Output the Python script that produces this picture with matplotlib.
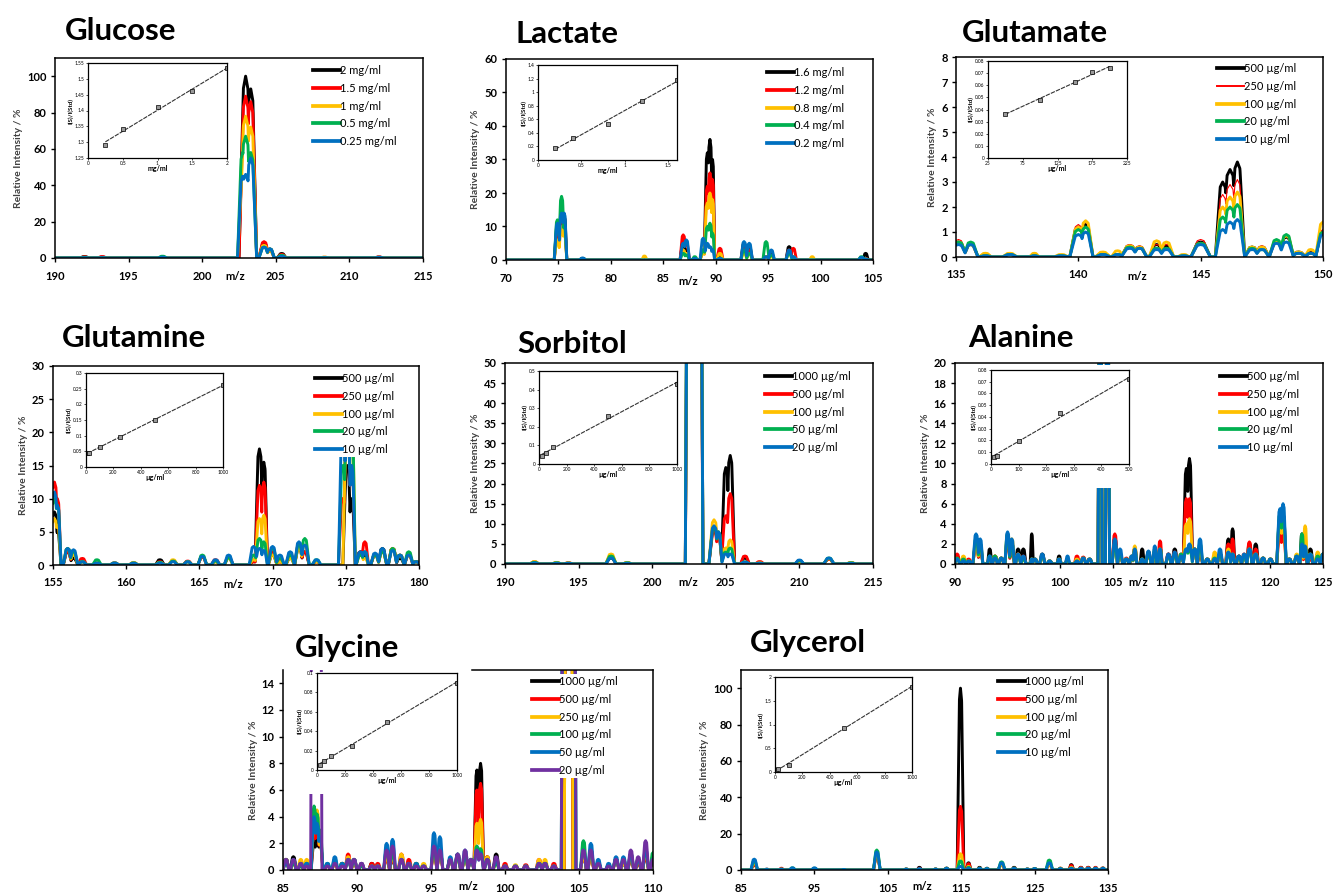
import numpy as np
import matplotlib
matplotlib.use('Agg')
import matplotlib.pyplot as plt
from matplotlib.lines import Line2D
from matplotlib.patches import Rectangle
from matplotlib.ticker import FuncFormatter, MultipleLocator

plt.rcParams['font.family'] = ['Lato', 'DejaVu Sans']

W, H = 1333, 894
COLORS = ['#000000', '#ff0000', '#ffc000', '#00b050', '#0070c0', '#7030a0']
UG = '\u00b5g/ml'

# ---------------- DATA ----------------
# peaks: (m/z, half width, [height per concentration, highest first])

glucose_labels = ['2 mg/ml', '1.5 mg/ml', '1 mg/ml', '0.5 mg/ml', '0.25 mg/ml']
glucose_peaks = [
    (192.0, 0.3, [0.8, 0.6, 0.4, 0.3, 0.2]),
    (193.2, 0.3, [0.5, 0.8, 0.3, 0.2, 0.2]),
    (197.3, 0.3, [0.4, 0.4, 0.6, 1.0, 0.5]),
    (202.75, 0.35, [0, 0, 40, 58, 45]),
    (202.95, 0.45, [100, 89, 78, 67, 46]),
    (203.3, 0.4, [93, 86, 72, 58, 55]),
    (204.2, 0.35, [8, 9, 7, 6, 6]),
    (204.6, 0.3, [5, 4, 4, 5, 5]),
    (205.4, 0.3, [2.5, 2, 1.5, 1.5, 1]),
    (208.3, 0.3, [0.3, 0.4, 0.5, 0.2, 0.2]),
    (212.0, 0.3, [0.5, 0.6, 0.3, 0.4, 0.3]),
]
glucose_cal_x = [0.25, 0.5, 1, 1.5, 2]
glucose_cal_y = [1.29, 1.343, 1.41, 1.462, 1.533]

lactate_labels = ['1.6 mg/ml', '1.2 mg/ml', '0.8 mg/ml', '0.4 mg/ml', '0.2 mg/ml']
lactate_peaks = [
    (74.9, 0.3, [10, 8, 6, 12, 11]),
    (75.3, 0.3, [15, 12, 10, 19, 14]),
    (75.55, 0.25, [13, 10, 8, 10, 14]),
    (77.3, 0.3, [0.5, 0.4, 0.3, 0.5, 0.6]),
    (83.2, 0.25, [0, 0, 1.2, 0, 0]),
    (86.9, 0.3, [5, 7.5, 3, 2, 5]),
    (87.2, 0.3, [3, 5, 2, 1.5, 6]),
    (88.0, 0.25, [0.5, 0.5, 0.5, 1.0, 0.5]),
    (88.8, 0.3, [3, 2, 2, 3, 6.5]),
    (89.2, 0.3, [32, 22, 17, 10, 5]),
    (89.45, 0.3, [36, 26, 20, 11, 4]),
    (89.7, 0.2, [30, 24, 18, 8, 3]),
    (90.4, 0.3, [1.5, 3.5, 2, 0.5, 0.5]),
    (92.7, 0.3, [5, 4, 2, 3, 5.5]),
    (93.2, 0.3, [4, 3, 2, 2, 5]),
    (94.8, 0.3, [1, 1, 1, 5.5, 1]),
    (95.3, 0.3, [2, 1.5, 1, 1.5, 3]),
    (97.0, 0.3, [4, 3, 2, 2, 3]),
    (97.4, 0.3, [1, 3.5, 1, 0.5, 1]),
    (99.2, 0.25, [0, 0, 1, 0, 0]),
    (103.9, 0.3, [0.5, 0.5, 0.5, 1.0, 0.8]),
    (104.3, 0.25, [2, 0.5, 0.3, 0.3, 0.3]),
]
lactate_cal_x = [0.2, 0.4, 0.8, 1.2, 1.6]
lactate_cal_y = [0.174, 0.32, 0.536, 0.87, 1.18]

glutamate_labels = ['500 ' + UG, '250 ' + UG, '100 ' + UG, '20 ' + UG, '10 ' + UG]
glutamate_peaks = [
    (135.1, 0.35, [0.6, 0.7, 0.6, 0.6, 0.5]),
    (135.6, 0.3, [0.5, 0.5, 0.5, 0.6, 0.5]),
    (136.2, 0.25, [0.1, 0.1, 0.15, 0.05, 0.05]),
    (137.2, 0.3, [0.1, 0.1, 0.15, 0.1, 0.1]),
    (138.2, 0.2, [0.05, 0.1, 0.15, 0.05, 0.05]),
    (139.3, 0.3, [0.05, 0.05, 0.1, 0.05, 0.05]),
    (140.0, 0.35, [1.2, 1.3, 1.2, 1.1, 0.9]),
    (140.3, 0.3, [1.3, 1.4, 1.45, 1.2, 1.0]),
    (141.0, 0.3, [0.15, 0.15, 0.2, 0.1, 0.1]),
    (141.6, 0.25, [0.1, 0.1, 0.25, 0.1, 0.1]),
    (142.1, 0.35, [0.45, 0.5, 0.45, 0.4, 0.35]),
    (142.5, 0.3, [0.4, 0.45, 0.4, 0.35, 0.35]),
    (143.2, 0.3, [0.5, 0.5, 0.65, 0.35, 0.3]),
    (143.6, 0.3, [0.45, 0.5, 0.6, 0.35, 0.3]),
    (144.3, 0.25, [0.05, 0.05, 0.1, 0.05, 0.05]),
    (145.0, 0.4, [0.6, 0.7, 0.55, 0.55, 0.5]),
    (145.9, 0.3, [3.0, 2.5, 2.0, 1.6, 1.1]),
    (146.2, 0.35, [3.5, 2.9, 2.4, 2.0, 1.4]),
    (146.5, 0.3, [3.8, 3.1, 2.6, 2.1, 1.5]),
    (147.1, 0.3, [0.4, 0.4, 0.4, 0.35, 0.3]),
    (147.5, 0.3, [0.4, 0.45, 0.4, 0.3, 0.3]),
    (148.1, 0.3, [0.6, 0.7, 0.65, 0.7, 0.55]),
    (148.5, 0.3, [0.8, 0.9, 0.85, 0.9, 0.6]),
    (149.0, 0.3, [0.2, 0.2, 0.2, 0.15, 0.15]),
    (149.5, 0.25, [0.2, 0.2, 0.3, 0.15, 0.15]),
    (150.0, 0.3, [1.0, 1.1, 1.4, 1.0, 0.9]),
]
glutamate_cal_x = [50, 100, 150, 175, 200]
glutamate_cal_y = [0.0366, 0.048, 0.0623, 0.0709, 0.0743]

glutamine_labels = ['500 ' + UG, '250 ' + UG, '100 ' + UG, '20 ' + UG, '10 ' + UG]
glutamine_peaks = [
    (155.1, 0.3, [8, 12.5, 7, 10, 11]),
    (155.3, 0.25, [5, 10, 6, 9, 9]),
    (156.0, 0.3, [2, 2, 2.5, 2.5, 2.5]),
    (156.4, 0.3, [1, 1.5, 1.5, 2, 2.3]),
    (157.0, 0.3, [0.5, 1, 0.5, 0.5, 0.5]),
    (158.0, 0.3, [0.3, 0.3, 0.5, 0.8, 0.3]),
    (159.2, 0.3, [0.3, 0.3, 0.3, 0.3, 0.3]),
    (160.5, 0.3, [0.3, 0.3, 0.4, 0.3, 0.3]),
    (162.3, 0.3, [0.8, 0.5, 0.4, 0.4, 0.3]),
    (163.2, 0.3, [0.6, 0.6, 0.8, 0.6, 0.5]),
    (164.2, 0.3, [0.5, 0.6, 0.5, 0.5, 0.5]),
    (165.2, 0.3, [1.2, 1.2, 1.3, 1.5, 1.3]),
    (166.1, 0.3, [0.5, 0.8, 0.5, 0.6, 0.8]),
    (167.0, 0.3, [1.0, 1.2, 1.0, 1.1, 1.5]),
    (168.7, 0.3, [0.5, 0.5, 0.8, 1.5, 2.8]),
    (169.1, 0.3, [17.5, 12, 7, 4, 2.5]),
    (169.4, 0.25, [15.5, 12.5, 7.5, 3.5, 2.2]),
    (170.0, 0.3, [1.5, 2, 1.5, 2.5, 2.8]),
    (170.5, 0.3, [0.5, 0.5, 0.5, 1, 1.5]),
    (171.2, 0.3, [1, 1.5, 1, 1.5, 2]),
    (171.8, 0.3, [2.5, 3, 2.5, 3, 3.5]),
    (172.2, 0.3, [2, 2, 3, 4, 3]),
    (173.0, 0.3, [0.5, 0.5, 0.5, 0.8, 0.8]),
    (174.8, 0.3, [0, 10, 0, 15, 22]),
    (175.1, 0.3, [15, 22, 22, 22, 22]),
    (175.4, 0.25, [10, 15, 22, 22, 15]),
    (176.0, 0.3, [2, 2, 1.5, 1.5, 2]),
    (176.3, 0.25, [1.5, 3.5, 1, 2, 2]),
    (177.0, 0.3, [1.5, 1.5, 1.5, 1.5, 1.8]),
    (177.5, 0.3, [2.5, 2, 2, 2, 2.5]),
    (178.2, 0.3, [2.5, 2.5, 2.5, 2.5, 2.2]),
    (178.7, 0.3, [1, 1.5, 1.5, 1.5, 1.5]),
    (179.3, 0.3, [1.5, 1.5, 1.5, 2, 1.5]),
    (179.8, 0.3, [0.5, 0.5, 0.5, 0.5, 0.5]),
]
glutamine_cal_x = [10, 20, 100, 250, 500, 1000]
glutamine_cal_y = [0.044, 0.046, 0.065, 0.095, 0.149, 0.262]

sorbitol_labels = ['1000 ' + UG, '500 ' + UG, '100 ' + UG, '50 ' + UG, '20 ' + UG]
sorbitol_peaks = [
    (192.0, 0.3, [0.5, 0.5, 0.6, 0.4, 0.3]),
    (193.5, 0.3, [0.3, 0.3, 0.4, 0.3, 0.2]),
    (194.3, 0.3, [0.2, 0.3, 0.3, 0.2, 0.2]),
    (197.2, 0.35, [1.5, 2, 2.5, 2, 1.5]),
    (198.3, 0.3, [0.3, 0.3, 0.4, 0.3, 0.2]),
    (202.85, 0.6, [300, 250, 300, 300, 300]),
    (204.2, 0.35, [9, 8, 11, 9, 9.5]),
    (204.5, 0.25, [7, 7, 8, 8, 8]),
    (205.0, 0.3, [24, 12, 4, 3, 2.5]),
    (205.3, 0.3, [27, 17.5, 6, 4, 2.5]),
    (206.3, 0.3, [1.5, 2, 0.5, 0.5, 0.5]),
    (207.3, 0.3, [0.3, 0.6, 0.3, 0.2, 0.2]),
    (210.0, 0.3, [0.8, 0.6, 0.6, 0.8, 1]),
    (212.0, 0.35, [1.2, 1.2, 1.3, 1.5, 1.5]),
    (213.5, 0.3, [0.3, 0.3, 0.4, 0.3, 0.2]),
]
sorbitol_cal_x = [20, 50, 100, 500, 1000]
sorbitol_cal_y = [0.045, 0.057, 0.089, 0.257, 0.432]

alanine_labels = ['500 ' + UG, '250 ' + UG, '100 ' + UG, '20 ' + UG, '10 ' + UG]
alanine_peaks = [
    (90.2, 0.25, [0.8, 1, 0.5, 0.6, 0.5]),
    (90.8, 0.25, [0.6, 0.3, 0.8, 0.5, 0.3]),
    (91.3, 0.25, [0.3, 0.5, 0.3, 0.3, 0.3]),
    (92.0, 0.3, [2, 2, 2, 2.5, 3]),
    (92.4, 0.25, [1.5, 1.5, 2, 2, 2.5]),
    (93.3, 0.2, [1.5, 0.5, 0.5, 0.8, 0.8]),
    (93.8, 0.25, [0.8, 0.8, 0.8, 0.8, 0.6]),
    (94.4, 0.25, [0.6, 0.6, 0.6, 0.6, 0.6]),
    (95.0, 0.25, [2.5, 2.5, 3, 3, 3.2]),
    (95.4, 0.25, [2, 1.5, 2.5, 2, 2.5]),
    (96.0, 0.25, [1.5, 1, 1, 0.8, 1]),
    (96.5, 0.25, [1.5, 0.8, 0.5, 0.5, 0.8]),
    (97.3, 0.15, [3, 0.5, 0.5, 0.5, 0.5]),
    (97.6, 0.25, [0.5, 0.5, 0.5, 0.5, 0.5]),
    (98.3, 0.25, [1, 0.8, 0.8, 0.8, 1]),
    (99.0, 0.25, [0.3, 0.3, 0.3, 0.3, 0.3]),
    (99.9, 0.2, [0.8, 0.5, 0.5, 0.5, 0.5]),
    (100.7, 0.2, [0.5, 0.5, 0.5, 0.5, 0.8]),
    (101.6, 0.25, [0.3, 0.8, 0.5, 0.3, 0.3]),
    (102.2, 0.25, [0.6, 0.7, 0.6, 0.6, 0.6]),
    (102.8, 0.25, [0.5, 0.5, 0.5, 0.5, 0.5]),
    (103.8, 0.2, [30, 30, 30, 30, 30]),
    (104.5, 0.2, [30, 30, 30, 30, 30]),
    (105.2, 0.25, [2.5, 3, 2, 2, 2.5]),
    (105.7, 0.25, [1, 1, 1, 1, 1.5]),
    (106.3, 0.25, [0.5, 0.6, 0.5, 0.5, 0.5]),
    (106.8, 0.2, [0.6, 0.8, 0.6, 0.8, 0.8]),
    (107.1, 0.2, [1.5, 1.5, 1.8, 1.3, 1.5]),
    (107.8, 0.2, [1.5, 0.5, 0.5, 0.5, 0.5]),
    (108.4, 0.25, [1.2, 1, 1, 1, 1.3]),
    (109.0, 0.2, [1.2, 1.3, 1, 1.5, 1.8]),
    (109.5, 0.2, [1.5, 2.3, 1.5, 1.5, 1.5]),
    (110.3, 0.25, [1, 1, 0.8, 0.8, 1]),
    (110.9, 0.25, [1.5, 1.2, 1, 1, 1.2]),
    (111.5, 0.25, [0.8, 1, 0.8, 1, 0.8]),
    (112.0, 0.3, [9.5, 6.5, 4, 1.5, 1.5]),
    (112.3, 0.3, [10.5, 6.5, 4.5, 1.5, 2]),
    (112.8, 0.25, [1.5, 1.5, 1.5, 1.5, 1.5]),
    (113.3, 0.25, [1, 1.5, 1.5, 2, 2.5]),
    (114.0, 0.25, [0.5, 0.5, 0.5, 0.5, 0.5]),
    (114.7, 0.25, [0.8, 0.5, 1.2, 0.6, 0.5]),
    (115.2, 0.25, [1, 1, 1, 1, 1.5]),
    (116.0, 0.25, [2.5, 2, 1.5, 1, 1.2]),
    (116.4, 0.2, [3.5, 2.5, 1, 1, 1]),
    (117.0, 0.25, [0.8, 0.8, 0.5, 0.8, 0.8]),
    (117.5, 0.25, [0.8, 1, 0.8, 0.8, 1]),
    (118.0, 0.25, [2, 2.2, 1.5, 1.5, 1.5]),
    (118.6, 0.25, [2, 1.5, 1, 1, 1]),
    (119.3, 0.25, [0.6, 0.6, 0.6, 0.6, 0.6]),
    (120.0, 0.25, [0.5, 0.5, 0.5, 0.5, 0.5]),
    (120.9, 0.3, [4.5, 3, 4.5, 5, 5.5]),
    (121.2, 0.3, [5, 3, 4, 4.8, 6]),
    (121.8, 0.25, [0.5, 0.5, 0.5, 0.5, 0.5]),
    (122.5, 0.25, [0.8, 0.8, 1, 0.8, 0.8]),
    (123.0, 0.2, [3, 1, 1, 3, 2]),
    (123.3, 0.2, [1, 1.5, 3.8, 1.5, 1.8]),
    (123.8, 0.25, [1.5, 0.5, 1, 1, 1]),
    (124.5, 0.25, [1, 0.8, 1.2, 0.8, 0.5]),
    (125.0, 0.25, [1, 1, 1, 1, 1]),
]
alanine_cal_x = [10, 20, 100, 250, 500]
alanine_cal_y = [0.0062, 0.0071, 0.0199, 0.043, 0.072]

glycine_labels = ['1000 ' + UG, '500 ' + UG, '250 ' + UG, '100 ' + UG, '50 ' + UG, '20 ' + UG]
glycine_peaks = [
    (85.2, 0.2, [0.8, 0.8, 0.5, 0.8, 0.5, 0.8]),
    (85.7, 0.2, [1, 0.5, 0.5, 0.5, 0.8, 0.8]),
    (86.2, 0.2, [0.5, 0.3, 0.8, 0.3, 0.5, 0.5]),
    (86.6, 0.2, [0.3, 0.3, 0.8, 0.5, 0.5, 0.3]),
    (87.25, 0.38, [0, 0, 0, 0, 0, 100]),
    (87.1, 0.2, [2, 3, 3.5, 4.8, 4, 0]),
    (87.3, 0.2, [3, 3.5, 4.5, 4.2, 3.5, 0]),
    (87.5, 0.2, [2, 2, 2, 3, 2.5, 0]),
    (88.0, 0.2, [0.3, 0.3, 0.3, 0.5, 0.5, 0.3]),
    (88.5, 0.2, [0.5, 0.5, 0.5, 0.8, 1, 0.5]),
    (89.0, 0.2, [0.5, 0.5, 0.5, 0.5, 0.5, 0.3]),
    (89.4, 0.2, [0.8, 1.2, 1, 0.8, 0.8, 0.8]),
    (89.8, 0.2, [0.5, 0.8, 0.5, 0.8, 0.8, 0.8]),
    (90.3, 0.2, [0.3, 0.5, 0.3, 0.3, 0.5, 0.5]),
    (91.0, 0.2, [0.5, 0.5, 0.3, 0.3, 0.3, 0.3]),
    (91.4, 0.2, [0.3, 0.5, 0.3, 0.3, 0.3, 0.3]),
    (92.0, 0.2, [1, 0.8, 1, 1.5, 2, 1.5]),
    (92.4, 0.2, [0.8, 0.8, 1, 1.2, 2.3, 1.8]),
    (93.0, 0.2, [0.8, 1.2, 1.2, 0.8, 0.8, 0.8]),
    (93.5, 0.2, [0.5, 0.8, 0.5, 0.5, 0.5, 0.5]),
    (94.0, 0.2, [0.3, 0.5, 0.5, 0.5, 0.5, 0.3]),
    (94.5, 0.2, [0.4, 0.3, 0.5, 0.3, 0.3, 0.3]),
    (95.2, 0.2, [1.5, 1.2, 1.5, 1.5, 2.8, 1.8]),
    (95.6, 0.2, [1.5, 1.2, 1.5, 1.5, 2.5, 1.5]),
    (96.3, 0.2, [0.8, 0.8, 0.8, 0.8, 1, 0.8]),
    (96.8, 0.2, [1.2, 1, 1, 1, 1.2, 1.2]),
    (97.3, 0.2, [1, 1, 1, 1, 1.5, 1.5]),
    (97.7, 0.2, [0.8, 0.8, 0.8, 0.8, 0.8, 0.8]),
    (98.1, 0.2, [7.5, 6, 3.5, 1.8, 1.5, 1.5]),
    (98.35, 0.2, [8, 6.5, 3.8, 1.6, 1.3, 1.2]),
    (98.8, 0.2, [1, 1, 1, 0.8, 0.8, 0.8]),
    (99.4, 0.2, [1.2, 0.8, 0.5, 0.5, 0.8, 1]),
    (100.0, 0.2, [0.3, 0.5, 0.3, 0.3, 0.3, 0.3]),
    (100.7, 0.2, [0.3, 0.3, 0.4, 0.3, 0.3, 0.3]),
    (101.4, 0.2, [0.3, 0.4, 0.3, 0.3, 0.3, 0.3]),
    (102.3, 0.2, [0.5, 0.8, 0.8, 0.5, 0.5, 0.5]),
    (102.7, 0.2, [0.5, 0.5, 0.8, 0.5, 0.5, 0.5]),
    (103.3, 0.2, [0.3, 0.5, 0.3, 0.3, 0.3, 0.3]),
    (104.3, 0.3, [60, 60, 60, 0, 0, 0]),
    (104.3, 0.5, [0, 0, 0, 100, 100, 100]),
    (105.3, 0.2, [1, 1, 1, 2.2, 1.5, 1.5]),
    (105.8, 0.2, [1, 1, 1, 1.5, 2, 1.5]),
    (106.3, 0.2, [0.5, 0.5, 0.5, 0.5, 0.8, 0.5]),
    (107.0, 0.2, [0.3, 0.3, 0.3, 0.3, 0.5, 0.3]),
    (107.5, 0.2, [0.8, 0.8, 0.8, 0.8, 1, 0.8]),
    (108.0, 0.2, [0.5, 0.5, 0.5, 0.8, 1, 0.8]),
    (108.5, 0.2, [0.8, 0.8, 1, 1.2, 1.2, 1.5]),
    (109.0, 0.2, [0.5, 0.5, 0.8, 0.8, 0.8, 1]),
    (109.5, 0.2, [1, 1, 1.3, 1.5, 1.5, 2.2]),
    (110.0, 0.2, [0.8, 0.8, 1, 1.3, 0.8, 0.8]),
]
glycine_cal_x = [20, 50, 100, 250, 500, 1000]
glycine_cal_y = [0.005, 0.0097, 0.0145, 0.025, 0.050, 0.090]

glycerol_labels = ['1000 ' + UG, '500 ' + UG, '100 ' + UG, '20 ' + UG, '10 ' + UG]
glycerol_peaks = [
    (86.8, 0.45, [3, 3, 4, 5, 6]),
    (88.5, 0.3, [0.5, 0.3, 0.3, 0.3, 0.3]),
    (90.5, 0.3, [0.5, 1, 0.5, 0.5, 0.5]),
    (92.0, 0.4, [0.8, 0.8, 0.8, 1.2, 1.2]),
    (95.0, 0.4, [0.8, 0.8, 0.8, 1, 1.2]),
    (99.0, 0.3, [0.3, 0.3, 0.3, 0.3, 0.3]),
    (103.5, 0.45, [8, 8, 9, 11, 10]),
    (107.5, 0.3, [0.5, 0.5, 0.5, 0.5, 0.5]),
    (109.3, 0.3, [1.5, 1, 0.5, 0.5, 0.8]),
    (111.5, 0.3, [0.5, 0.5, 0.5, 0.5, 0.5]),
    (113.0, 0.3, [1, 1, 1, 1, 1]),
    (114.9, 0.45, [100, 35, 9, 5, 2]),
    (116.0, 0.3, [4, 3.5, 2, 1.5, 1]),
    (117.5, 0.3, [1.5, 1, 1, 1, 1]),
    (118.5, 0.3, [1, 0.8, 0.8, 0.8, 0.8]),
    (120.5, 0.45, [3, 3, 3, 4.5, 4]),
    (122.2, 0.3, [1.5, 1, 1, 1, 1]),
    (124.0, 0.3, [0.5, 0.5, 0.5, 0.5, 0.5]),
    (125.0, 0.3, [0.8, 0.8, 0.8, 0.8, 0.8]),
    (127.0, 0.45, [3, 3, 3, 5.5, 4]),
    (128.5, 0.3, [1, 1, 1, 0.8, 0.8]),
    (130.0, 0.3, [3, 2.5, 1.5, 1, 1]),
    (131.3, 0.3, [1.5, 1.5, 1, 1, 1]),
    (132.3, 0.3, [1.5, 1.5, 1, 1, 1]),
    (133.3, 0.3, [1.2, 1.5, 1, 1, 1]),
    (134.3, 0.3, [1, 1.2, 1, 1, 1]),
]
glycerol_cal_x = [10, 20, 100, 500, 1000]
glycerol_cal_y = [0.035, 0.056, 0.155, 0.92, 1.80]

# ---------------- LAYOUT (pixels) ----------------
PANELS = [
    dict(name='Glucose', labels=glucose_labels, peaks=glucose_peaks,
         cal=(glucose_cal_x, glucose_cal_y), ax=(55, 58, 423, 258), ins=(88, 63, 227, 158),
         xlim=(190, 215), xstep=5, ylim=(0, 110), ytop=100, ystep=20,
         ixlim=(0, 2), ixstep=0.5, iylim=(1.25, 1.55), iystep=0.05, iunit='mg/ml',
         leg=(313, 71), title=(65, 40), mz=(235, 277)),
    dict(name='Lactate', labels=lactate_labels, peaks=lactate_peaks,
         cal=(lactate_cal_x, lactate_cal_y), ax=(506, 59, 873, 260), ins=(538, 65, 677, 160),
         xlim=(70, 105), xstep=5, ylim=(0, 60), ytop=60, ystep=10,
         ixlim=(0, 1.6), ixstep=0.5, iylim=(0, 1.4), iystep=0.2, iunit='mg/ml',
         leg=(767, 73), title=(516, 43), mz=(688, 281)),
    dict(name='Glutamate', labels=glutamate_labels, peaks=glutamate_peaks,
         cal=(glutamate_cal_x, glutamate_cal_y), ax=(956, 57, 1323, 257), ins=(988, 61, 1127, 158),
         xlim=(135, 150), xstep=5, ylim=(0, 8), ytop=8, ystep=1,
         ixlim=(25, 225), ixstep=50, iylim=(0, 0.08), iystep=0.01, iunit=UG,
         leg=(1217, 69), title=(962, 42), mz=(1137, 277), thin=1),
    dict(name='Glutamine', labels=glutamine_labels, peaks=glutamine_peaks,
         cal=(glutamine_cal_x, glutamine_cal_y), ax=(53, 366, 419, 565), ins=(86, 373, 223, 467),
         xlim=(155, 180), xstep=5, ylim=(0, 30), ytop=30, ystep=5,
         ixlim=(0, 1000), ixstep=200, iylim=(0, 0.3), iystep=0.05, iunit=UG,
         leg=(315, 379), title=(62, 347), mz=(233, 585)),
    dict(name='Sorbitol', labels=sorbitol_labels, peaks=sorbitol_peaks,
         cal=(sorbitol_cal_x, sorbitol_cal_y), ax=(505, 363, 873, 564), ins=(539, 371, 677, 464),
         xlim=(190, 215), xstep=5, ylim=(0, 50), ytop=50, ystep=5,
         ixlim=(0, 1000), ixstep=200, iylim=(0, 0.5), iystep=0.1, iunit=UG,
         leg=(765, 377), title=(517, 353), mz=(688, 583)),
    dict(name='Alanine', labels=alanine_labels, peaks=alanine_peaks,
         cal=(alanine_cal_x, alanine_cal_y), ax=(955, 363, 1323, 564), ins=(991, 370, 1129, 464),
         xlim=(90, 125), xstep=5, ylim=(0, 20), ytop=20, ystep=2,
         ixlim=(0, 500), ixstep=100, iylim=(0, 0.08), iystep=0.01, iunit=UG,
         leg=(1220, 377), title=(968, 347), mz=(1138, 583)),
    dict(name='Glycine', labels=glycine_labels, peaks=glycine_peaks,
         cal=(glycine_cal_x, glycine_cal_y), ax=(283, 670, 653, 870), ins=(317, 673, 457, 770),
         xlim=(85, 110), xstep=5, ylim=(0, 15), ytop=14, ystep=2,
         ixlim=(0, 1000), ixstep=200, iylim=(0, 0.1), iystep=0.02, iunit=UG,
         leg=(532, 682), title=(295, 657), mz=(468, 887), topspine=97.8),
    dict(name='Glycerol', labels=glycerol_labels, peaks=glycerol_peaks,
         cal=(glycerol_cal_x, glycerol_cal_y), ax=(741, 670, 1108, 870), ins=(775, 677, 912, 772),
         xlim=(85, 135), xstep=10, ylim=(0, 110), ytop=100, ystep=20,
         ixlim=(0, 1000), ixstep=200, iylim=(0, 2), iystep=0.5, iunit=UG,
         leg=(998, 682), title=(750, 652), mz=(922, 887)),
]

PROFILE_D = [0, 0.35, 0.75, 1]
PROFILE_Y = [1, 0.93, 0.35, 0]
fmt = FuncFormatter(lambda v, pos: '%g' % round(v, 6))


def px_rect(l, t, r, b):
    return [l / W, 1 - b / H, (r - l) / W, (b - t) / H]


def spectrum(x, peaks, k):
    y = np.zeros_like(x)
    for c, hw, hs in peaks:
        y = np.maximum(y, hs[k] * np.interp(np.abs(x - c) / hw, PROFILE_D, PROFILE_Y))
    return y


def draw_panel(fig, p):
    ax = fig.add_axes(px_rect(*p['ax']))
    x = np.arange(p['xlim'][0], p['xlim'][1] + 0.005, 0.01)
    handles = []
    for k, lab in enumerate(p['labels']):
        lw = 0.8 if p.get('thin') == k else 2.1
        ax.plot(x, spectrum(x, p['peaks'], k), color=COLORS[k], lw=lw, zorder=2)
        handles.append(Line2D([], [], color=COLORS[k], lw=lw + 0.6))
    ax.set_xlim(*p['xlim'])
    ax.set_ylim(*p['ylim'])
    ax.set_xticks(np.arange(p['xlim'][0], p['xlim'][1] + 0.01, p['xstep']))
    ax.set_yticks(np.arange(0, p['ytop'] + 0.001, p['ystep']))
    ax.yaxis.set_major_formatter(fmt)
    ax.tick_params(direction='out', length=3, width=1, labelsize=8, pad=3)
    ax.tick_params(axis='x', pad=6)
    for t in ax.get_xticklabels() + ax.get_yticklabels():
        t.set_fontweight('bold')
    for s in ax.spines.values():
        s.set_linewidth(1.1)
    if 'topspine' in p:
        ax.spines['top'].set_bounds(p['topspine'], p['xlim'][1])
    ax.set_ylabel('Relative Intensity / %', fontsize=7.5, fontweight='bold',
                  color='#404040', labelpad=3)

    # legend with opaque white box
    lx, ly = p['leg']
    leg = ax.legend(handles, p['labels'], loc='upper left',
                    bbox_to_anchor=((lx - 2) / W, 1 - (ly - 8) / H),
                    bbox_transform=fig.transFigure, frameon=True, fancybox=False,
                    edgecolor='none', facecolor='white', framealpha=1,
                    borderpad=0.2, borderaxespad=0, handlelength=2.4,
                    handletextpad=0.05, labelspacing=0.6, fontsize=8)
    leg.set_zorder(5)

    # white chart area behind inset
    il, it, ir, ib = p['ins']
    top = p['ax'][1] + 1.5
    ax.add_patch(Rectangle(((il - 24) / W, 1 - (ib + 24) / H), (ir - il + 30) / W,
                           (ib + 24 - top) / H, transform=fig.transFigure,
                           facecolor='white', edgecolor='none', zorder=2.2, clip_on=False))

    ins = fig.add_axes(px_rect(*p['ins']))
    cx, cy = p['cal']
    a, b = np.polyfit(cx, cy, 1)
    xs = np.array([min(cx), max(cx)])
    ins.plot(xs, a * xs + b, color='#333333', lw=0.8, ls=(0, (4, 1)))
    ins.plot(cx, cy, ls='none', marker='s', ms=2.8, mfc='#999999', mec='black', mew=0.5)
    ins.set_xlim(*p['ixlim'])
    ins.set_ylim(*p['iylim'])
    ins.xaxis.set_major_locator(MultipleLocator(p['ixstep']))
    ins.yaxis.set_major_locator(MultipleLocator(p['iystep']))
    if p['name'] == 'Glutamate':
        ins.set_xticks(np.arange(25, 226, 50))
    ins.xaxis.set_major_formatter(fmt)
    ins.yaxis.set_major_formatter(fmt)
    ins.tick_params(direction='out', length=1.5, width=0.5, labelsize=3.5, pad=1)
    for s in ins.spines.values():
        s.set_linewidth(0.9)
    ins.set_xlabel(p['iunit'], fontsize=5, fontweight='bold', labelpad=-1)
    ins.set_ylabel('I(S)/I(Std)', fontsize=4.5, fontweight='bold', labelpad=1)

    tx, ty = p['title']
    fig.text(tx / W, 1 - ty / H, p['name'], fontsize=22.5, fontweight='bold', va='baseline')
    mx, my = p['mz']
    fig.text(mx / W, 1 - my / H, 'm/z', fontsize=8, fontweight='bold', ha='center', va='center')


fig = plt.figure(figsize=(W / 100, H / 100), dpi=100)
for panel in PANELS:
    draw_panel(fig, panel)
fig.savefig('out.png', dpi=100)
